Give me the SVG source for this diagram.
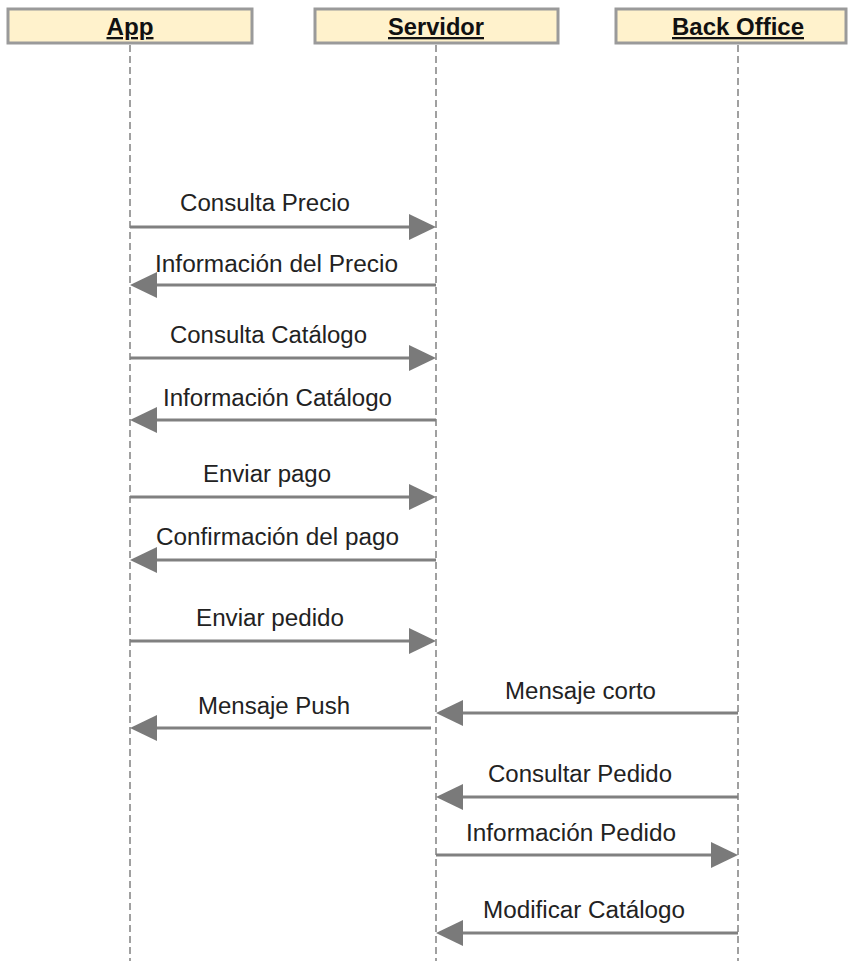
<svg xmlns="http://www.w3.org/2000/svg" width="848" height="961" viewBox="0 0 848 961">
<style>
.hdr{fill:#fff2cc;stroke:#9a9a9a;stroke-width:3}
.htxt{font-family:"Liberation Sans",Arial,sans-serif;font-weight:bold;font-size:23px;fill:#111;text-decoration:underline}
.life{stroke:#a0a0a0;stroke-width:2;stroke-dasharray:7 4;fill:none}
.msg{stroke:#808080;stroke-width:3;fill:none;marker-end:url(#ah)}
.mtxt{font-family:"Liberation Sans",Arial,sans-serif;font-size:23px;fill:#222}
</style>
<defs>
<marker id="ah" markerUnits="userSpaceOnUse" markerWidth="27" markerHeight="26" refX="17" refY="13" orient="auto">
<path d="M0,0 L27,13 L0,26 z" fill="#7a7a7a"/>
</marker>
</defs>
<rect width="848" height="961" fill="#fff"/>
<g id="lifelines">
<line class="life" x1="130" y1="45" x2="130" y2="961"/>
<line class="life" x1="436" y1="45" x2="436" y2="961"/>
<line class="life" x1="738" y1="45" x2="738" y2="961"/>
</g>
<g id="app">
<rect class="hdr" x="8" y="9" width="244" height="34"/>
<text class="htxt" x="130" y="35" text-anchor="middle" textLength="47" lengthAdjust="spacingAndGlyphs">App</text>
</g>
<g id="servidor">
<rect class="hdr" x="315" y="9" width="243" height="34"/>
<text class="htxt" x="436" y="35" text-anchor="middle" textLength="96" lengthAdjust="spacingAndGlyphs">Servidor</text>
</g>
<g id="backoffice">
<rect class="hdr" x="616" y="9" width="230" height="34"/>
<text class="htxt" x="738" y="35" text-anchor="middle" textLength="132" lengthAdjust="spacingAndGlyphs">Back Office</text>
</g>
<g id="connectors">
<line class="msg" x1="130" y1="227" x2="426" y2="227"/>
<line class="msg" x1="436" y1="285" x2="140" y2="285"/>
<line class="msg" x1="130" y1="358" x2="426" y2="358"/>
<line class="msg" x1="436" y1="420" x2="140" y2="420"/>
<line class="msg" x1="130" y1="497" x2="426" y2="497"/>
<line class="msg" x1="436" y1="560" x2="140" y2="560"/>
<line class="msg" x1="130" y1="641" x2="426" y2="641"/>
<line class="msg" x1="738" y1="713" x2="446" y2="713"/>
<line class="msg" x1="431" y1="728" x2="140" y2="728"/>
<line class="msg" x1="738" y1="797" x2="446" y2="797"/>
<line class="msg" x1="436" y1="855" x2="728" y2="855"/>
<line class="msg" x1="738" y1="933" x2="446" y2="933"/>
</g>
<g id="labels">
<text class="mtxt" x="180" y="211" textLength="170" lengthAdjust="spacingAndGlyphs">Consulta Precio</text>
<text class="mtxt" x="155" y="272" textLength="243" lengthAdjust="spacingAndGlyphs">Información del Precio</text>
<text class="mtxt" x="170" y="343" textLength="197" lengthAdjust="spacingAndGlyphs">Consulta Catálogo</text>
<text class="mtxt" x="163" y="406" textLength="229" lengthAdjust="spacingAndGlyphs">Información Catálogo</text>
<text class="mtxt" x="203" y="482" textLength="128" lengthAdjust="spacingAndGlyphs">Enviar pago</text>
<text class="mtxt" x="156" y="545" textLength="243" lengthAdjust="spacingAndGlyphs">Confirmación del pago</text>
<text class="mtxt" x="196" y="626" textLength="148" lengthAdjust="spacingAndGlyphs">Enviar pedido</text>
<text class="mtxt" x="505" y="699" textLength="151" lengthAdjust="spacingAndGlyphs">Mensaje corto</text>
<text class="mtxt" x="198" y="714" textLength="152" lengthAdjust="spacingAndGlyphs">Mensaje Push</text>
<text class="mtxt" x="488" y="782" textLength="184" lengthAdjust="spacingAndGlyphs">Consultar Pedido</text>
<text class="mtxt" x="466" y="841" textLength="210" lengthAdjust="spacingAndGlyphs">Información Pedido</text>
<text class="mtxt" x="483" y="918" textLength="202" lengthAdjust="spacingAndGlyphs">Modificar Catálogo</text>
</g>
</svg>
